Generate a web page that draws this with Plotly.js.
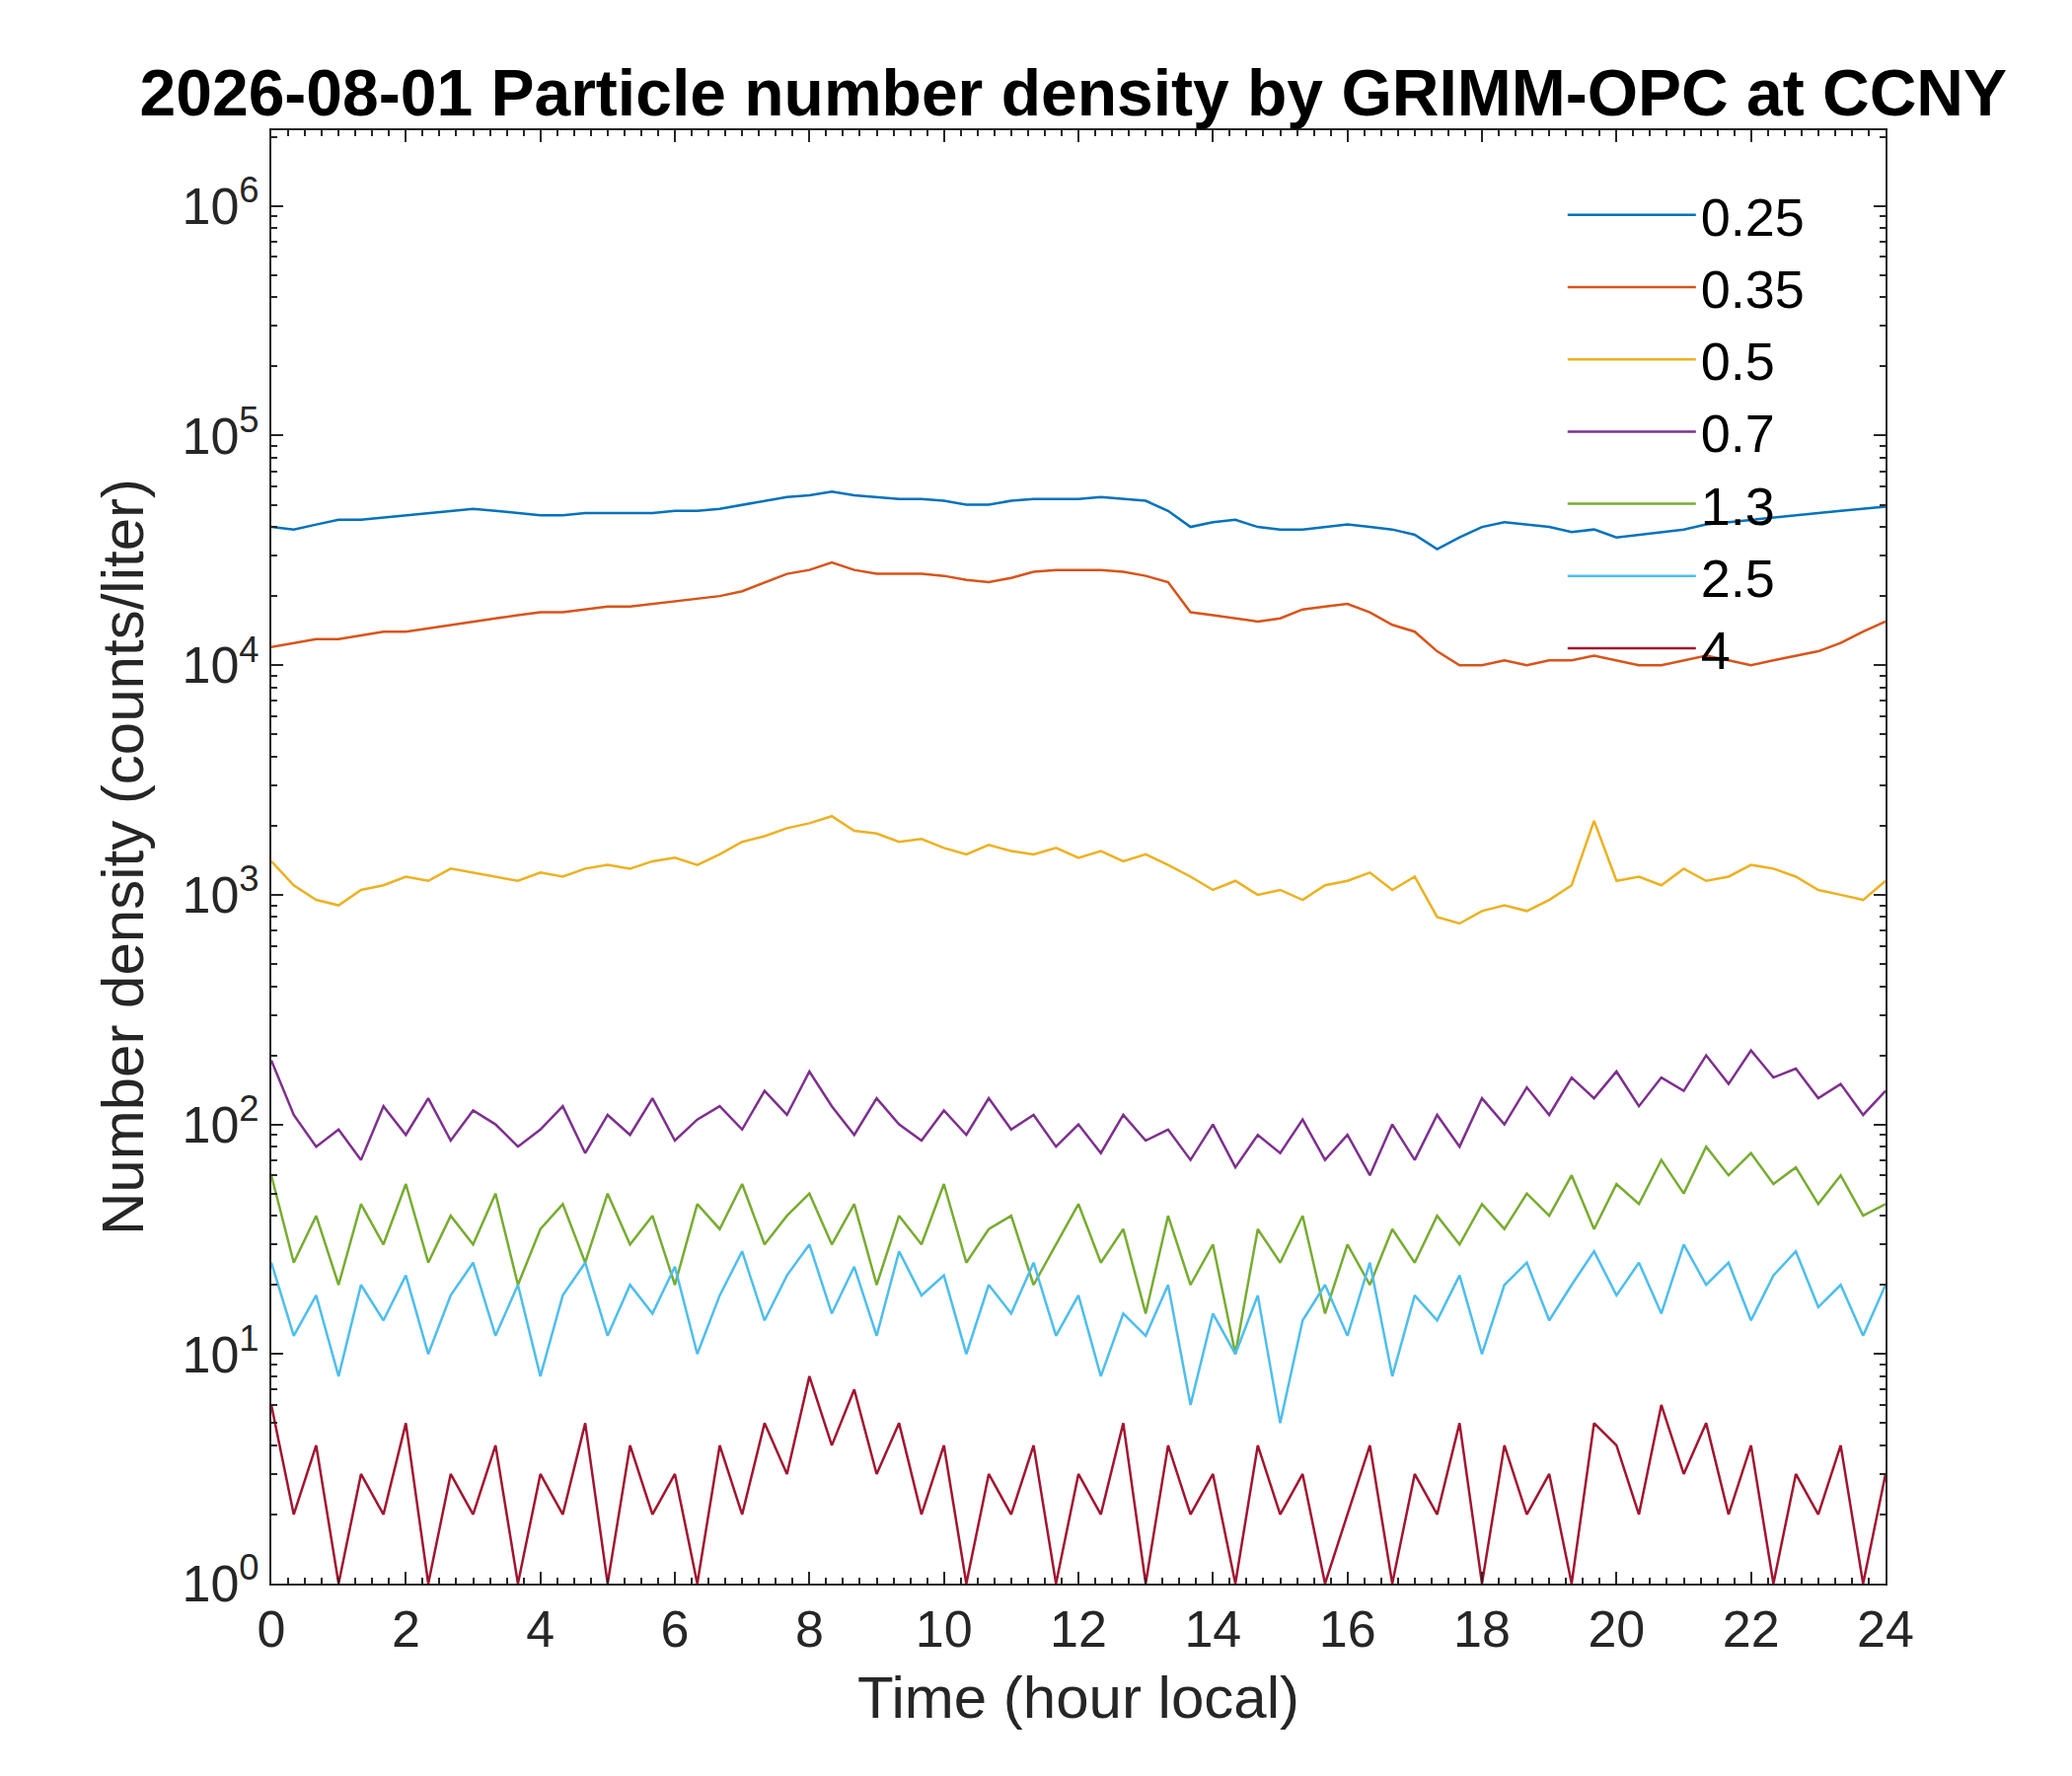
<!DOCTYPE html>
<html>
<head>
<meta charset="utf-8">
<script src="https://cdn.plot.ly/plotly-3.0.1.min.js"></script>
<style>body{margin:0;background:#fff}#chart{width:2100px;height:1800px}</style>
</head>
<body>
<div id="chart"></div>
<script>
// samples every 20 minutes, 0..24 h
var hours = [];
for (var i = 0; i <= 72; i++) hours.push(i / 3);

var sizeNames = ['0.25', '0.35', '0.5', '0.7', '1.3', '2.5', '4'];
var colors = ['#0072BD', '#D95319', '#EDB120', '#7E2F8E', '#77AC30', '#4DBEEE', '#A2142F'];
var yTickVals = [1, 10, 100, 1000, 10000, 100000, 1000000];
var yTickText = ['10<sup>0</sup>', '10<sup>1</sup>', '10<sup>2</sup>', '10<sup>3</sup>',
  '10<sup>4</sup>', '10<sup>5</sup>', '10<sup>6</sup>'];

var n025 = [40,39,41,43,43,44,45,46,47,48,47,46,
  45,45,46,46,46,46,47,47,48,50,52,54,
  55,57,55,54,53,53,52,50,50,52,53,53,
  53,54,53,52,47,40,42,43,40,39,39,40,
  41,40,39,37,32,36,40,42,41,40,38,39,
  36,37,38,39,41,42,43,44,45,46,47,48,
  49].map(function (v) { return v * 1000; });
var n035 = [12,12.5,13,13,13.5,14,14,14.5,15,15.5,16,16.5,
  17,17,17.5,18,18,18.5,19,19.5,20,21,23,25,
  26,28,26,25,25,25,24.5,23.5,23,24,25.5,26,
  26,26,25.5,24.5,23,17,16.5,16,15.5,16,17.5,18,
  18.5,17,15,14,11.5,10,10,10.5,10,10.5,10.5,11,
  10.5,10,10,10.5,11,10.5,10,10.5,11,11.5,12.5,14,
  15.5].map(function (v) { return v * 1000; });
var n05 = [1400,1100,950,900,1050,1100,1200,1150,1300,1250,1200,1150,
  1250,1200,1300,1350,1300,1400,1450,1350,1500,1700,1800,1950,
  2050,2200,1900,1850,1700,1750,1600,1500,1650,1550,1500,1600,
  1450,1550,1400,1500,1350,1200,1050,1150,1000,1050,950,1100,
  1150,1250,1050,1200,800,750,850,900,850,950,1100,2100,
  1150,1200,1100,1300,1150,1200,1350,1300,1200,1050,1000,950,
  1150];
var n07 = [190,110,80,95,70,120,90,130,85,115,100,80,
  95,120,75,110,90,130,85,105,120,95,140,110,
  170,120,90,130,100,85,115,90,130,95,110,80,
  100,75,110,85,95,70,100,65,90,75,105,70,
  90,60,100,70,110,80,130,100,145,110,160,130,
  170,120,160,140,200,150,210,160,175,130,150,110,
  140];
var n13 = [60,25,40,20,45,30,55,25,40,30,50,20,
  35,45,25,50,30,40,20,45,35,55,30,40,
  50,30,45,20,40,30,55,25,35,40,20,30,
  45,25,35,15,40,20,30,10,35,25,40,15,
  30,20,35,25,40,30,45,35,50,40,60,35,
  55,45,70,50,80,60,75,55,65,45,60,40,
  45];
var n25 = [25,12,18,8,20,14,22,10,18,25,12,20,
  8,18,25,12,20,15,24,10,18,28,14,22,
  30,15,24,12,28,18,22,10,20,15,25,12,
  18,8,15,12,20,6,15,10,18,5,14,20,
  12,25,8,18,14,22,10,20,25,14,20,28,
  18,25,15,30,20,25,14,22,28,16,20,12,
  20];
var n4 = [6,2,4,1,3,2,5,1,3,2,4,1,
  3,2,5,1,4,2,3,1,4,2,5,3,
  8,4,7,3,5,2,4,1,3,2,4,1,
  3,2,5,1,4,2,3,1,4,2,3,1,
  2,4,1,3,2,5,1,4,2,3,1,5,
  4,2,6,3,5,2,4,1,3,2,4,1,
  3];

var series = [n025, n035, n05, n07, n13, n25, n4];
var data = series.map(function (ys, k) {
  return {
    x: hours, y: ys, type: 'scatter', mode: 'lines',
    name: sizeNames[k], line: {color: colors[k], width: 2.5}
  };
});

var axisCommon = {
  showline: true, linecolor: '#262626', linewidth: 2, mirror: 'ticks',
  ticks: 'inside', ticklen: 12, tickwidth: 2, tickcolor: '#262626',
  showgrid: false, zeroline: false,
  tickfont: {family: 'Liberation Sans, Arial', size: 52, color: '#262626'}
};

var layout = {
  width: 2100, height: 1800,
  paper_bgcolor: '#fff', plot_bgcolor: '#fff',
  margin: {l: 275, r: 189, t: 132, b: 195},
  title: {text: '<b>2026-08-01 Particle number density by GRIMM-OPC at CCNY</b>',
    font: {family: 'Liberation Sans, Arial', size: 66, color: '#000'},
    x: 0.518, xanchor: 'center', y: 0.948, yanchor: 'middle'},
  xaxis: Object.assign({}, axisCommon, {
    range: [0, 24], dtick: 2, tick0: 0,
    minor: {dtick: 0.25, ticks: 'inside', ticklen: 6, tickcolor: '#262626', tickwidth: 1.5},
    title: {text: 'Time (hour local)', standoff: 20,
      font: {family: 'Liberation Sans, Arial', size: 60, color: '#262626'}}
  }),
  yaxis: Object.assign({}, axisCommon, {
    type: 'log', range: [0, 6.33], tickvals: yTickVals, ticktext: yTickText,
    minor: {dtick: 'D1', ticks: 'inside', ticklen: 6, tickcolor: '#262626', tickwidth: 1.5},
    title: {text: 'Number density (counts/liter)', standoff: 20,
      font: {family: 'Liberation Sans, Arial', size: 60, color: '#262626'}}
  }),
  showlegend: true,
  legend: {x: 0.8, y: 0.97, xanchor: 'left', yanchor: 'top',
    bgcolor: 'rgba(0,0,0,0)', borderwidth: 0, itemwidth: 130,
    tracegroupgap: 0,
    font: {family: 'Liberation Sans, Arial', size: 54, color: '#000'}}
};

Plotly.newPlot('chart', data, layout, {displayModeBar: false});
</script>
</body>
</html>
